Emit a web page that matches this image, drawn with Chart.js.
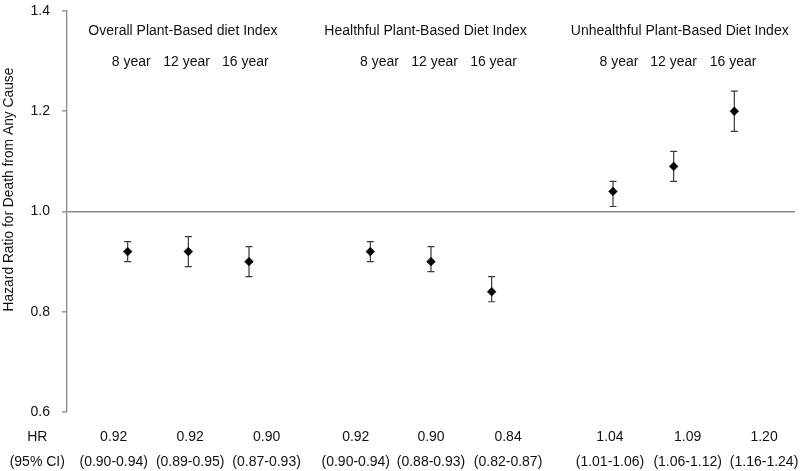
<!DOCTYPE html>
<html>
<head>
<meta charset="utf-8">
<script src="https://cdn.jsdelivr.net/npm/chart.js@4.4.1/dist/chart.umd.min.js"></script>
<style>
  html, body { margin: 0; padding: 0; background: #fff; }
  #wrap { width: 800px; height: 471px; position: relative; }
</style>
</head>
<body>
<div id="wrap"><canvas id="c" width="800" height="471"></canvas></div>
<script>
// ---- data ----
const groups = ['Overall Plant-Based diet Index', 'Healthful Plant-Based Diet Index', 'Unhealthful Plant-Based Diet Index'];
const years = ['8 year', '12 year', '16 year'];
const hr = [0.92, 0.92, 0.90, 0.92, 0.90, 0.84, 1.04, 1.09, 1.20];
const ciLow = [0.90, 0.89, 0.87, 0.90, 0.88, 0.82, 1.01, 1.06, 1.16];
const ciHigh = [0.94, 0.95, 0.93, 0.94, 0.93, 0.87, 1.06, 1.12, 1.24];
const yTicks = [0.6, 0.8, 1.0, 1.2, 1.4];
const rowLabels = ['HR', '(95% CI)'];
const yTitle = 'Hazard Ratio for Death from Any Cause';

// ---- layout (x positions in axis units) ----
const slotX = [1, 2, 3, 5, 6, 7, 9, 10, 11];
const groupTitleX = [1.91, 5.91, 10.1];
const yearLabelX = [1.06, 1.97, 2.94, 5.15, 6.06, 7.03, 9.10, 10.0, 10.98];
const tableX = [0.77, 2.03, 3.29, 4.76, 6.0, 7.27, 8.95, 10.23, 11.49];
const rowLabelX = -0.49;

const points = hr.map((v, i) => ({ x: slotX[i], y: v }));
const FONT = '"Liberation Sans", Arial, sans-serif';
const TXT = '#111';

const errorBars = {
  id: 'errorBars',
  beforeDatasetsDraw(chart) {
    const ctx = chart.ctx, xs = chart.scales.x, ys = chart.scales.y;
    ctx.save();
    ctx.strokeStyle = '#3a3a3a';
    ctx.lineWidth = 1.2;
    hr.forEach((v, i) => {
      const px = xs.getPixelForValue(slotX[i]);
      const top = ys.getPixelForValue(ciHigh[i]);
      const bot = ys.getPixelForValue(ciLow[i]);
      ctx.beginPath();
      ctx.moveTo(px, top); ctx.lineTo(px, bot);
      ctx.moveTo(px - 3.5, top); ctx.lineTo(px + 3.5, top);
      ctx.moveTo(px - 3.5, bot); ctx.lineTo(px + 3.5, bot);
      ctx.stroke();
    });
    ctx.restore();
  }
};

const labels = {
  id: 'labels',
  afterDraw(chart) {
    const ctx = chart.ctx, xs = chart.scales.x, ys = chart.scales.y;
    ctx.save();
    ctx.fillStyle = TXT;
    ctx.font = '14px ' + FONT;
    ctx.textAlign = 'center';
    ctx.textBaseline = 'middle';
    groups.forEach((g, i) => ctx.fillText(g, xs.getPixelForValue(groupTitleX[i]), 31));
    yearLabelX.forEach((x, i) => ctx.fillText(years[i % 3], xs.getPixelForValue(x), 62));
    ctx.fillText(rowLabels[0], xs.getPixelForValue(rowLabelX), 437);
    ctx.fillText(rowLabels[1], xs.getPixelForValue(rowLabelX), 462);
    hr.forEach((v, i) => {
      const px = xs.getPixelForValue(tableX[i]);
      ctx.fillText(v.toFixed(2), px, 437);
      ctx.fillText('(' + ciLow[i].toFixed(2) + '-' + ciHigh[i].toFixed(2) + ')', px, 462);
    });
    // rotated axis title
    ctx.save();
    ctx.translate(9, ys.getPixelForValue(1.0) - 22);
    ctx.rotate(-Math.PI / 2);
    ctx.font = '13.8px ' + FONT;
    ctx.fillText(yTitle, 0, 0);
    ctx.restore();
    ctx.restore();
  }
};

new Chart(document.getElementById('c'), {
  type: 'scatter',
  data: {
    datasets: [{
      data: points,
      pointStyle: 'rectRot',
      pointRadius: 4.4,
      pointBackgroundColor: '#000',
      pointBorderColor: '#000',
      pointBorderWidth: 0.5,
      showLine: false
    }]
  },
  options: {
    responsive: false,
    animation: false,
    devicePixelRatio: 1,
    layout: { padding: { left: 0, right: 5, top: 11, bottom: 59 } },
    plugins: { legend: { display: false }, tooltip: { enabled: false } },
    scales: {
      x: { type: 'linear', min: 0, max: 12, display: false },
      y: {
        type: 'linear', min: 0.6, max: 1.4,
        afterBuildTicks(scale) { scale.ticks = yTicks.map(v => ({ value: v })); },
        afterFit(scale) { scale.width = 67; scale.paddingTop = 0; scale.paddingBottom = 0; },
        ticks: {
          callback: v => Number(v).toFixed(1),
          font: { family: FONT, size: 14 },
          color: TXT,
          padding: 12
        },
        grid: {
          drawOnChartArea: true,
          drawTicks: true,
          tickLength: 5,
          tickWidth: 1.3,
          tickColor: '#8a8a8a',
          lineWidth: 1.6,
          color: c => (c.tick && Math.abs(c.tick.value - 1.0) < 1e-9) ? '#8a8a8a' : 'rgba(0,0,0,0)'
        },
        border: { display: true, color: '#8a8a8a', width: 1.3 },
        title: { display: false }
      }
    }
  },
  plugins: [errorBars, labels]
});
</script>
</body>
</html>
